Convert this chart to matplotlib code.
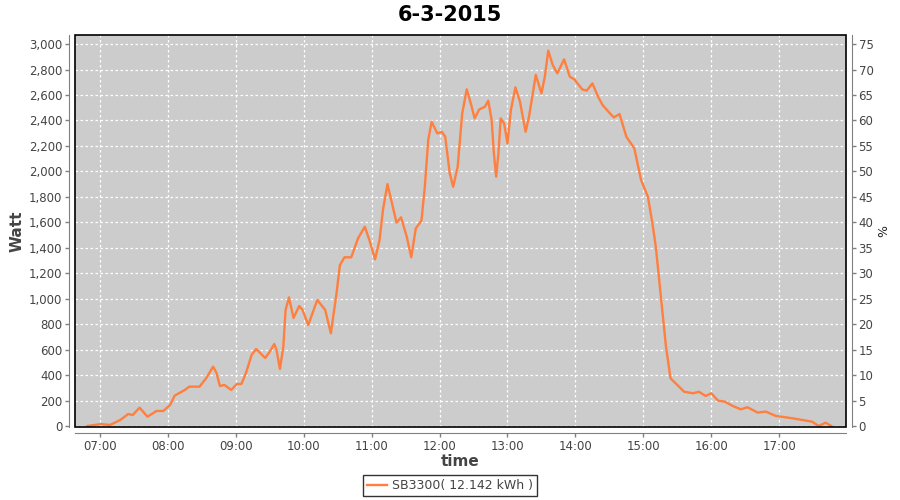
import matplotlib
matplotlib.use('Agg')
import matplotlib.pyplot as plt
import matplotlib.dates as mdates
from matplotlib.patches import Rectangle
from matplotlib.ticker import FuncFormatter, MultipleLocator
import pandas as pd

# Datos (hora, vatios)
horas = ['06:49', '07:01', '07:09', '07:18', '07:25', '07:29', '07:35', '07:42', '07:50', '07:56',
         '08:02', '08:06', '08:15', '08:19', '08:28', '08:34', '08:40', '08:43', '08:46', '08:50',
         '08:56', '09:01', '09:05', '09:09', '09:14', '09:18', '09:26', '09:30', '09:34', '09:36',
         '09:39', '09:42', '09:44', '09:47', '09:51', '09:56', '09:59', '10:04', '10:12', '10:19',
         '10:24', '10:29', '10:32', '10:36', '10:42', '10:48', '10:54', '10:58', '11:03', '11:07',
         '11:10', '11:14', '11:18', '11:22', '11:26', '11:31', '11:35', '11:39', '11:44', '11:47',
         '11:50', '11:53', '11:58', '12:02', '12:05', '12:09', '12:12', '12:16', '12:20', '12:24',
         '12:28', '12:31', '12:35', '12:40', '12:43', '12:46', '12:48', '12:50', '12:52', '12:54',
         '12:57', '13:00', '13:03', '13:07', '13:11', '13:16', '13:19', '13:25', '13:30', '13:33',
         '13:36', '13:40', '13:44', '13:50', '13:55', '13:59', '14:06', '14:10', '14:15', '14:20',
         '14:24', '14:31', '14:34', '14:39', '14:45', '14:52', '14:58', '15:04', '15:08', '15:11',
         '15:14', '15:17', '15:20', '15:24', '15:30', '15:36', '15:44', '15:49', '15:55', '16:00',
         '16:06', '16:12', '16:19', '16:26', '16:32', '16:41', '16:48', '16:57', '17:12', '17:24',
         '17:29', '17:35', '17:41', '17:46']
vatios = [0, 15, 8, 47, 94, 86, 144, 73, 118, 118,
          165, 238, 283, 309, 309, 377, 466, 416, 314, 322,
          283, 330, 330, 416, 558, 605, 534, 583, 644, 597,
          448, 623, 911, 1010, 848, 942, 911, 793, 990, 911,
          728, 1042, 1264, 1325, 1325, 1474, 1565, 1461, 1309, 1461,
          1696, 1900, 1749, 1597, 1639, 1487, 1325, 1552, 1612, 1879,
          2246, 2390, 2298, 2311, 2272, 1984, 1879, 2036, 2455, 2644,
          2521, 2416, 2486, 2507, 2555, 2403, 2141, 1958, 2141, 2416,
          2377, 2220, 2481, 2660, 2548, 2311, 2429, 2757, 2612, 2744,
          2948, 2835, 2770, 2880, 2744, 2723, 2644, 2634, 2691, 2586,
          2521, 2450, 2424, 2450, 2272, 2181, 1932, 1801, 1592, 1408,
          1147, 885, 623, 375, 322, 269, 257, 269, 236, 257,
          199, 191, 157, 131, 147, 105, 113, 79, 60, 42,
          34, 0, 26, 0]

fecha = '2015-03-06 '
tiempos = pd.to_datetime([fecha + h for h in horas])

gris_texto = '#444444'
gris_eje = '#808080'

fig = plt.figure(figsize=(9, 5), dpi=100)
ax = fig.add_axes([75 / 900, 73 / 500, 771 / 900, 392 / 500])
ax.set_facecolor('#cccccc')

ax.plot(tiempos, vatios, color='#ff7f3f', linewidth=1.7, label='SB3300( 12.142 kWh )', zorder=3)

ax.set_xlim(pd.Timestamp(fecha + '06:38'), pd.Timestamp(fecha + '17:59'))
ax.set_ylim(-8, 3071)

ax.xaxis.set_major_locator(mdates.HourLocator())
ax.xaxis.set_major_formatter(mdates.DateFormatter('%H:%M'))
ax.yaxis.set_major_locator(MultipleLocator(200))
ax.yaxis.set_major_formatter(FuncFormatter(lambda v, p: f'{int(v):,}'))

ax.grid(True, color='white', linestyle=(0, (2, 2)), linewidth=0.9)
ax.set_axisbelow(True)

# Eje derecho en porcentaje
ax2 = ax.twinx()
ax2.set_ylim(-8 / 40, 3071 / 40)
ax2.yaxis.set_major_locator(MultipleLocator(5))

for a in (ax, ax2):
    for lado in ('left', 'right', 'bottom'):
        a.spines[lado].set_position(('outward', 4))
        a.spines[lado].set_color(gris_eje)
    a.spines['top'].set_visible(False)
    a.tick_params(colors=gris_eje, labelcolor=gris_texto, labelsize=8.5, length=3, width=1, pad=2)
ax2.spines['left'].set_visible(False)
ax2.spines['bottom'].set_visible(False)
ax.spines['right'].set_visible(False)

# Borde negro del área de dibujo
ax.add_patch(Rectangle((0, 0), 1, 1, transform=ax.transAxes, fill=False,
                       edgecolor='black', linewidth=1.2, zorder=5, clip_on=False))

ax.set_ylabel('Watt', fontsize=11, color=gris_texto, fontweight='bold')
ax.yaxis.set_label_coords(-0.065, 0.5)
ax2.set_ylabel('%', fontsize=9, color='#222222')
ax2.yaxis.set_label_coords(1.040, 0.5)
ax.set_xlabel('time', fontsize=11, color=gris_texto, fontweight='bold', labelpad=1)

fig.suptitle('6-3-2015', fontsize=15, fontweight='bold', y=0.99)

leg = fig.legend(loc='lower center', bbox_to_anchor=(0.5, -0.004), fontsize=9,
                 frameon=True, fancybox=False, handlelength=1.6, handletextpad=0.4,
                 borderpad=0.3)
leg.get_frame().set_edgecolor('black')
leg.get_frame().set_linewidth(1)
for t in leg.get_texts():
    t.set_color(gris_texto)

fig.savefig('out.png', dpi=100)
